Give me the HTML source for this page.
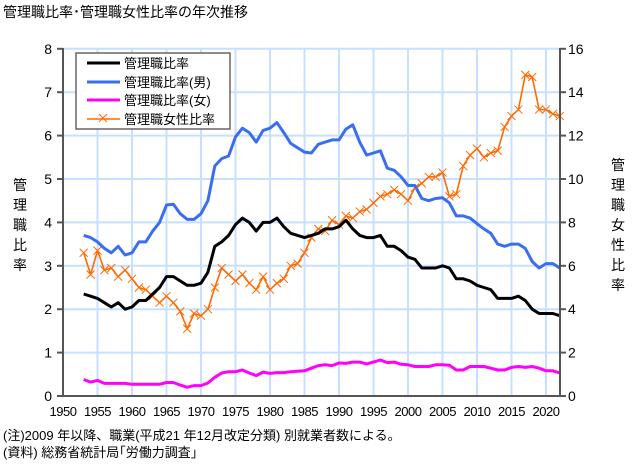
<!DOCTYPE html>
<html><head><meta charset="utf-8"><style>
body{margin:0;background:#fff;width:644px;height:464px;overflow:hidden;font-family:"Liberation Sans","Noto Sans CJK JP",sans-serif;}
svg{position:absolute;left:0;top:0}
</style></head><body>
<svg id="s" width="644" height="464" xmlns="http://www.w3.org/2000/svg" font-family="Liberation Sans, Noto Sans CJK JP, sans-serif">
<text x="3" y="17" font-size="14">管理職比率･管理職女性比率の年次推移</text>
<g id="grid"></g>
<g id="series"></g>
<line x1="63" y1="48" x2="63" y2="396" stroke="#555" stroke-width="2"/>
<line x1="560" y1="48" x2="560" y2="396" stroke="#555" stroke-width="2"/>
<line x1="63" y1="396" x2="560" y2="396" stroke="#555" stroke-width="2"/>
<g id="ticks" font-size="14"></g>
<g font-size="14">
<text x="20" y="190" text-anchor="middle">管</text>
<text x="20" y="210" text-anchor="middle">理</text>
<text x="20" y="230" text-anchor="middle">職</text>
<text x="20" y="250" text-anchor="middle">比</text>
<text x="20" y="270" text-anchor="middle">率</text>
<text x="618" y="170" text-anchor="middle">管</text>
<text x="618" y="190" text-anchor="middle">理</text>
<text x="618" y="210" text-anchor="middle">職</text>
<text x="618" y="230" text-anchor="middle">女</text>
<text x="618" y="250" text-anchor="middle">性</text>
<text x="618" y="270" text-anchor="middle">比</text>
<text x="618" y="290" text-anchor="middle">率</text>
</g>
<g>
<rect x="76" y="53" width="154" height="76" fill="#fff" stroke="#666" stroke-width="1.5"/>
<line x1="87" y1="63" x2="120" y2="63" stroke="#000" stroke-width="3"/>
<line x1="87" y1="82" x2="120" y2="82" stroke="#3a6ef0" stroke-width="3"/>
<line x1="87" y1="100" x2="120" y2="100" stroke="#ff00ff" stroke-width="3"/>
<line x1="87" y1="119" x2="120" y2="119" stroke="#ff6a00" stroke-width="1.5"/>
<path d="M99 114 l8 8 M107 114 l-8 8" stroke="#ff6a00" stroke-width="1"/>
<g font-size="13"><text x="124" y="68">管理職比率</text><text x="124" y="87">管理職比率(男)</text><text x="124" y="105">管理職比率(女)</text><text x="124" y="124">管理職女性比率</text></g>
</g>
<g font-size="13">
<text x="3" y="440">(注)2009 年以降、職業(平成21 年12月改定分類) 別就業者数による。</text>
<text x="3" y="457">(資料) 総務省統計局｢労働力調査｣</text>
</g>
</svg>
<script>
var NS="http://www.w3.org/2000/svg";
function X(y){return 63+(y-1950)*6.9}
function YL(v){return 396-v*43.4}
function YR(v){return 396-v*21.7}
var g=document.getElementById('grid'),t=document.getElementById('ticks'),s=document.getElementById('series');
function el(p,n,a,txt){var e=document.createElementNS(NS,n);for(var k in a)e.setAttribute(k,a[k]);if(txt!==undefined)e.textContent=txt;p.appendChild(e);return e}
for(var y=1950;y<=2020;y+=5){if(y>1950)el(g,'line',{x1:X(y),x2:X(y),y1:48,y2:396,stroke:'#c8e0ff','stroke-width':2});
 el(t,'text',{x:X(y)+(y==1950?0:0),y:416,'text-anchor':'middle','font-size':13,'letter-spacing':'-0.5'},y);}
for(var v=0;v<=8;v++){if(v>0)el(g,'line',{x1:63,x2:560,y1:YL(v),y2:YL(v),stroke:'#c8e0ff','stroke-width':2});
 el(t,'text',{x:52,y:YL(v)+5,'text-anchor':'end'},v);el(t,'text',{x:568,y:YL(v)+5},v*2);
 el(t,'line',{x1:57,x2:63,y1:YL(v),y2:YL(v),stroke:'#555','stroke-width':2});el(t,'line',{x1:560,x2:566,y1:YL(v),y2:YL(v),stroke:'#555','stroke-width':2});}
var tot=[2.35,2.3,2.25,2.15,2.05,2.15,2.0,2.05,2.2,2.2,2.35,2.5,2.75,2.75,2.65,2.55,2.55,2.6,2.85,3.45,3.55,3.7,3.95,4.1,4.0,3.8,4.0,4.0,4.1,3.9,3.75,3.7,3.65,3.7,3.75,3.85,3.85,3.9,4.05,3.85,3.7,3.65,3.65,3.7,3.45,3.45,3.35,3.2,3.15,2.95,2.95,2.95,3.0,2.95,2.7,2.7,2.65,2.55,2.5,2.45,2.25,2.25,2.25,2.3,2.2,2.0,1.9,1.9,1.9,1.85];
var male=[3.7,3.65,3.55,3.4,3.3,3.45,3.25,3.3,3.55,3.55,3.8,4.0,4.4,4.42,4.2,4.07,4.07,4.2,4.5,5.3,5.47,5.53,5.97,6.17,6.07,5.85,6.12,6.17,6.3,6.07,5.82,5.72,5.62,5.6,5.8,5.85,5.9,5.9,6.15,6.25,5.85,5.55,5.6,5.65,5.25,5.2,5.05,4.85,4.85,4.55,4.5,4.55,4.57,4.45,4.15,4.15,4.1,3.97,3.85,3.75,3.5,3.45,3.5,3.5,3.4,3.1,2.95,3.05,3.05,2.95];
var fem=[0.38,0.32,0.36,0.29,0.29,0.29,0.29,0.27,0.27,0.27,0.27,0.27,0.31,0.31,0.25,0.2,0.24,0.24,0.3,0.43,0.53,0.56,0.56,0.6,0.53,0.47,0.55,0.52,0.54,0.54,0.56,0.57,0.58,0.64,0.7,0.72,0.7,0.76,0.75,0.78,0.78,0.74,0.78,0.83,0.77,0.78,0.73,0.72,0.68,0.68,0.68,0.72,0.72,0.71,0.6,0.6,0.68,0.68,0.68,0.64,0.6,0.6,0.66,0.68,0.66,0.68,0.64,0.58,0.58,0.53];
var sh=[6.6,5.6,6.7,5.8,5.9,5.5,5.8,5.4,5.0,4.9,4.6,4.3,4.6,4.3,3.9,3.1,3.8,3.7,4.0,5.0,5.9,5.6,5.3,5.6,5.2,4.9,5.5,4.9,5.2,5.4,6.0,6.1,6.6,7.3,7.7,7.6,8.1,7.9,8.3,8.2,8.5,8.6,8.9,9.2,9.3,9.5,9.3,9.0,9.6,9.8,10.1,10.1,10.3,9.2,9.3,10.6,11.1,11.4,11.0,11.2,11.3,12.4,12.9,13.2,14.8,14.7,13.2,13.2,13.0,12.9];
function pl(d,f,c,w){var p=d.map(function(v,i){return X(1953+i).toFixed(1)+','+f(v).toFixed(1)}).join(' ');el(s,'polyline',{points:p,fill:'none',stroke:c,'stroke-width':w,'stroke-linejoin':'round'});}
pl(sh,YR,'#ff6a00',1.6);
sh.forEach(function(v,i){var x=X(1953+i),y=YR(v);el(s,'path',{d:'M'+(x-4)+' '+(y-4)+'l8 8M'+(x+4)+' '+(y-4)+'l-8 8',stroke:'#ff6a00','stroke-width':1});});
pl(fem,YL,'#ff00ff',3);pl(male,YL,'#3a6ef0',3);pl(tot,YL,'#000',3);
</script>
</body></html>
